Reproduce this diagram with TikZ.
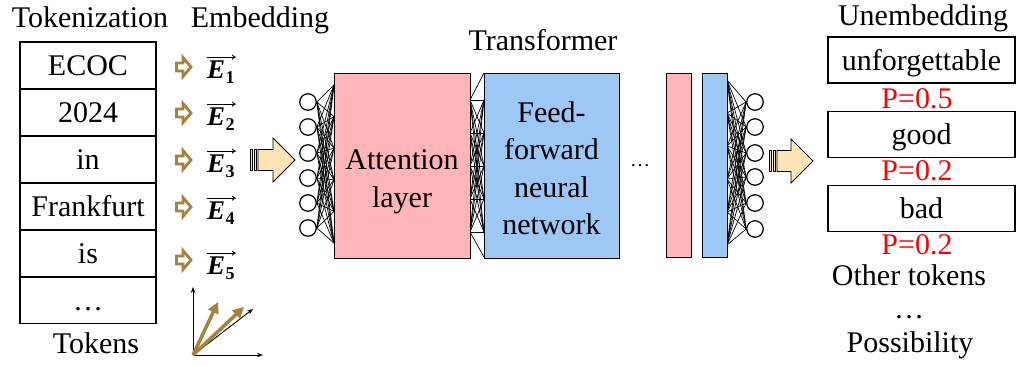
\documentclass[tikz,border=0pt]{standalone}
\usepackage{fontspec}
\setmainfont{Liberation Serif}
\newfontfamily\tnr{Liberation Serif}
\usetikzlibrary{calc,shapes.arrows,arrows.meta}
\definecolor{brn}{RGB}{166,130,62}
\definecolor{pinkc}{RGB}{255,181,183}
\definecolor{bluec}{RGB}{157,199,245}
\definecolor{peach}{RGB}{255,228,181}
\newcommand{\embE}[1]{{\bfseries\itshape E}\kern0.5pt\raisebox{-5pt}{\fontsize{18}{18}\selectfont\bfseries #1}}
\begin{document}
\begin{tikzpicture}[x=1pt,y=-1pt,
  every node/.style={font=\tnr\fontsize{30}{37.5}\selectfont},
  tok/.style={draw,line width=1.5pt,minimum width=136,minimum height=47,text height=20,text depth=0,inner sep=0},
  outb/.style={draw,line width=1.5pt,minimum width=187,minimum height=46,text height=20,text depth=0,inner sep=0},
  elbl/.style={font=\tnr\fontsize{27}{29}\selectfont,inner sep=0,anchor=base west},
  earr/.style={line width=0.8pt,-{To[length=4pt,width=5pt]}},
  hollow/.style={draw=brn,line width=2.8pt,fill=white,line join=miter,miter limit=3},
  layerbox/.style={draw,line width=1pt,minimum height=185,inner sep=0},
  neuron/.style={circle,draw,line width=1.2pt,minimum size=16.5,inner sep=0,fill=white},
  mesh/.style={line width=0.7pt},
  bigarr/.style={fill=peach,draw=black,line width=0.8pt},
  plbl/.style={text=red,anchor=base,inner sep=0}
]
\useasboundingbox (0,0) rectangle (1017,365);

% titles
\node[anchor=base] (tkz) at (90,27) {Tokenization};
\node[anchor=base] (emb) at (260,27) {Embedding};
\node[anchor=base] (trf) at (543,50) {Transformer};
\node[anchor=base] (unemb) at (923,25) {Unembedding};
\node[anchor=base] (tokens) at (96,353) {Tokens};

% tokens
\node[tok] (t1) at (88,65.5) {ECOC};
\node[tok] (t2) at (88,112.5) {2024};
\node[tok] (t3) at (88,159.5) {in};
\node[tok] (t4) at (88,206.5) {Frankfurt};
\node[tok] (t5) at (88,253.5) {is};
\node[tok] (t6) at (88,300) {\ldots};

% small hollow arrows and embeddings
\foreach \y in {67,113,160,207,260}
  \draw[hollow,shift={(183,\y)}] (-6.5,-4) -- (0,-4) -- (0,-9.5) -- (8,0) -- (0,9.5) -- (0,4) -- (-6.5,4) -- cycle;
\foreach \k/\y in {1/78,2/125,3/172,4/219,5/274}{
  \node[elbl] (e\k) at (207,\y) {\embE{\k}};
  \draw[earr] ($(e\k.north west)+(0,-3)$) -- ($(e\k.north east)+(1,-3)$);
}

% vector sketch
\coordinate (vo) at (193,355);
\coordinate (vy) at (193,287);
\coordinate (vx) at (263,355);
\coordinate (vt) at (253,309);
\coordinate (va) at (218,302);
\coordinate (vb) at (244,307);
\draw[line width=0.9pt,-{Stealth[length=6pt,width=4.5pt]}] (vo) -- (vy);
\draw[line width=0.9pt,-{Stealth[length=6pt,width=4.5pt]}] (vo) -- (vx);
\draw[line width=0.9pt,-{Stealth[length=6pt,width=4.5pt]}] (vo) -- (vt);
\draw[brn,line width=3.5pt,-{Triangle[length=11pt,width=11pt]}] (vo) -- (va);
\draw[brn,line width=3.5pt,-{Triangle[length=11pt,width=11pt]}] (vo) -- (vb);

% input striped arrow
\draw[bigarr] (250,149.5) rectangle (252,170.5);
\draw[bigarr] (254,149.5) rectangle (256,170.5);
\draw[bigarr] (258,149.5) -- (273,149.5) -- (273,138) -- (295,160) -- (273,182) -- (273,170.5) -- (258,170.5) -- cycle;

% left neurons
\node[neuron] (l1) at (308,102) {};
\node[neuron] (l2) at (308,127) {};
\node[neuron] (l3) at (308,153) {};
\node[neuron] (l4) at (308,178) {};
\node[neuron] (l5) at (308,203) {};
\node[neuron] (l6) at (308,228) {};
\coordinate (aA) at (334,85);
\coordinate (aB) at (334,243);
\foreach \i in {1,...,6}
  \foreach \t in {0,0.2,0.4,0.6,0.8,1}
    \draw[mesh] (l\i.east) -- ($(aA)!\t!(aB)$);

% middle mesh
\foreach \a in {100,133,166,199,232}
  \foreach \b in {100,133,166,199,232}
    \draw[mesh] (470,\a) -- (484,\b);
\draw[mesh] (470,100) -- (484,73);
\draw[mesh] (470,232) -- (484,257);

% right mesh
\node[neuron] (r1) at (755,102) {};
\node[neuron] (r2) at (755,127) {};
\node[neuron] (r3) at (755,153) {};
\node[neuron] (r4) at (755,177) {};
\node[neuron] (r5) at (755,203) {};
\node[neuron] (r6) at (755,229) {};
\coordinate (bA) at (727,80);
\coordinate (bB) at (727,245);
\foreach \i in {1,...,6}
  \foreach \t in {0,0.2,0.4,0.6,0.8,1}
    \draw[mesh] ($(bA)!\t!(bB)$) -- (r\i.west);

% layers
\node[layerbox,fill=pinkc,minimum width=136] (att) at (402,165.5) {};
\node[align=center] (attt) at (402,182) {Attention\\layer};
\node[layerbox,fill=bluec,minimum width=135] (ffn) at (551.5,165.5) {};
\node[align=center] (ffnt) at (551.5,168) {Feed-\\forward\\neural\\network};
\node[font=\tnr\fontsize{20}{22}\selectfont] (dots) at (640,166) {\ldots};
\node[layerbox,fill=pinkc,minimum width=25,minimum height=184] (pb) at (678.5,165) {};
\node[layerbox,fill=bluec,minimum width=25,minimum height=184] (bb) at (714.5,165) {};

% output striped arrow
\begin{scope}[shift={(519,1)}]
\draw[bigarr] (250,149.5) rectangle (252,170.5);
\draw[bigarr] (254,149.5) rectangle (256,170.5);
\draw[bigarr] (258,149.5) -- (272,149.5) -- (272,138) -- (294,160) -- (272,182) -- (272,170.5) -- (258,170.5) -- cycle;
\end{scope}

% outputs
\node[outb] (o1) at (921.5,60) {unforgettable};
\node[outb] (o2) at (921.5,134.5) {good};
\node[outb] (o3) at (921.5,208.5) {bad};
\node[plbl] (p1) at (917,108) {P=0.5};
\node[plbl] (p2) at (917,180) {P=0.2};
\node[plbl] (p3) at (917,254) {P=0.2};
\node[anchor=base,inner sep=0] (oth) at (909,285) {Other tokens};
\node[anchor=base] (odots) at (909,318) {\ldots};
\node[anchor=base] (poss) at (910,352) {Possibility};
\end{tikzpicture}
\end{document}
